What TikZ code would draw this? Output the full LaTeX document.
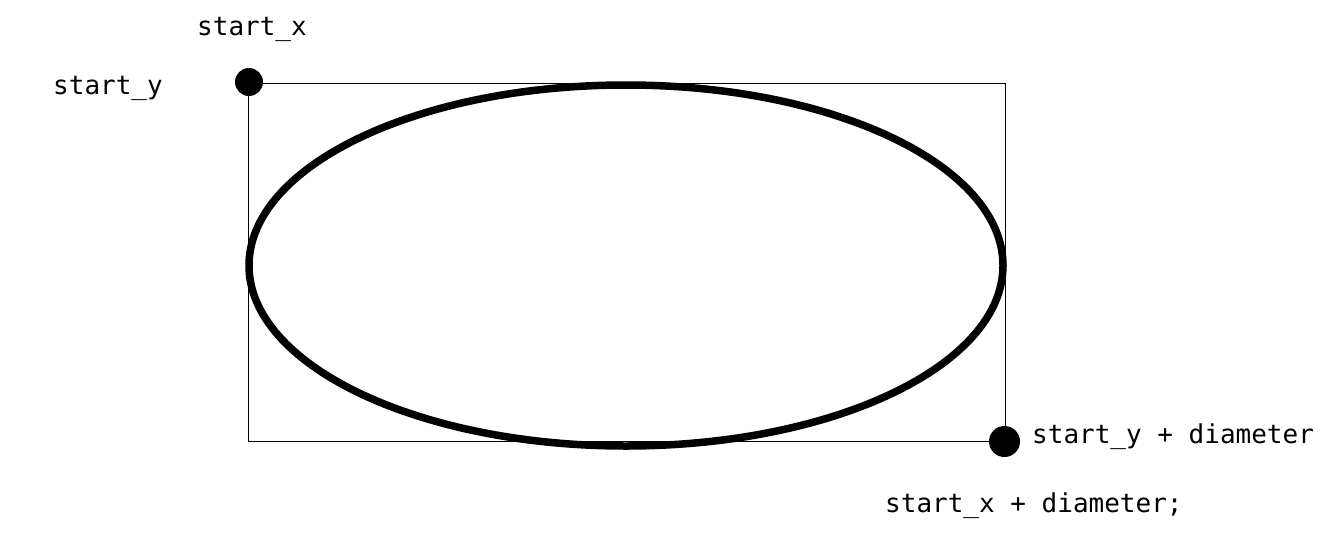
\documentclass[tikz,border=0pt]{standalone}
\usepackage{fontspec}
\setmonofont{DejaVu Sans Mono}
\usetikzlibrary{shapes.geometric}
\tikzset{
    corner/.style = {circle, fill=black, inner sep=0pt},
    coordtext/.style = {anchor=base west, inner sep=0pt, font=\ttfamily\fontsize{26}{30}\selectfont},
}
\begin{document}
\begin{tikzpicture}[x=1pt, y=-1pt]
    \useasboundingbox (0,0) rectangle (1335,536);
    % bounding rectangle
    \coordinate (tl) at (248,83);
    \coordinate (br) at (1005,441);
    \draw[line width=1pt] (tl) rectangle (br);
    % the ellipse itself
    \node[draw, ellipse, line width=7.5pt, minimum width=754pt, minimum height=361pt, inner sep=0pt] (oval) at (626,265.5) {};
    % corner points
    \node[corner, minimum size=28pt] (start) at (249,82) {};
    \node[corner, minimum size=31pt] (finish) at (1004.5,441.5) {};
    % labels
    \node[coordtext] (sx) at (197,35) {start\_x};
    \node[coordtext] (sy) at (53,94) {start\_y};
    \node[coordtext] (sy2) at (1032,443) {start\_y + diameter};
    \node[coordtext] (sx2) at (885,512) {start\_x + diameter;};
\end{tikzpicture}
\end{document}
